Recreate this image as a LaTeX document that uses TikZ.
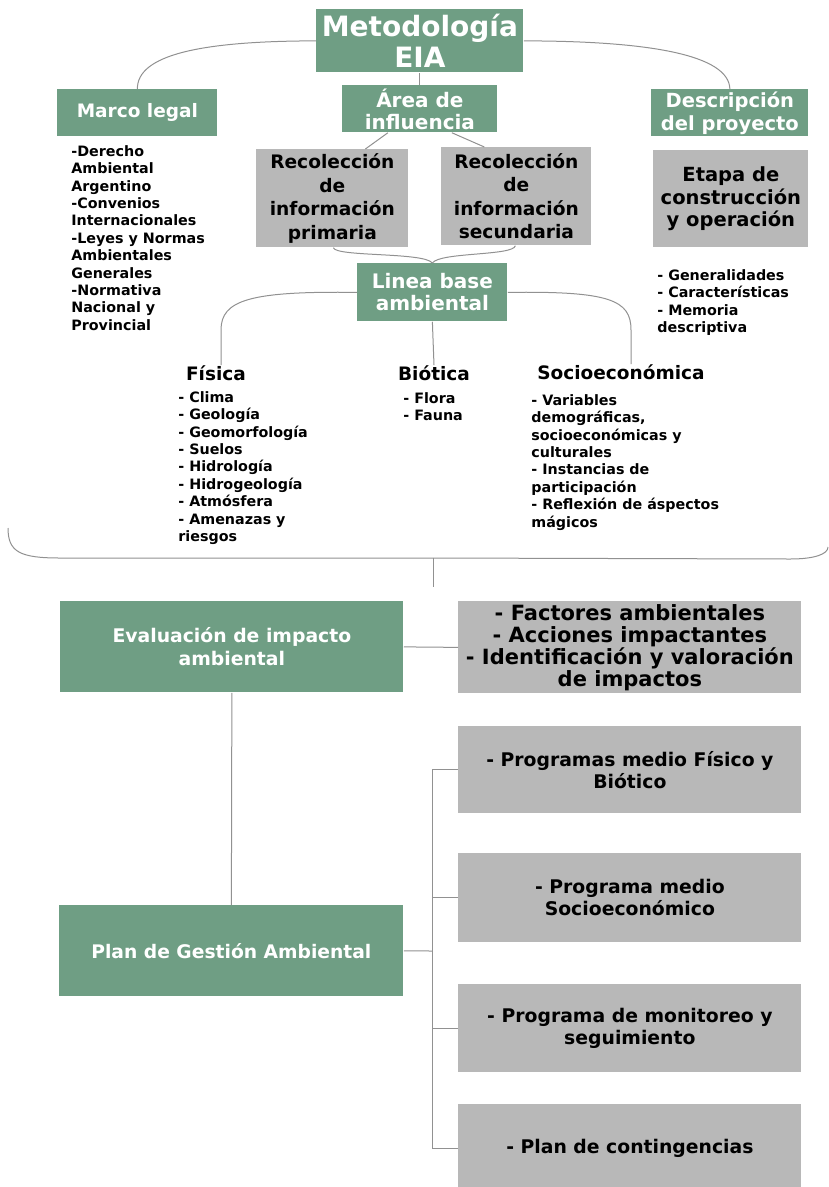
\documentclass[tikz,border=0pt]{standalone}
\usepackage{fontspec}
\setmainfont{DejaVu Sans}
\definecolor{eiagreen}{RGB}{111,158,132}
\definecolor{eiagray}{RGB}{184,184,184}
\definecolor{eialine}{RGB}{145,145,145}
\newcommand{\fs}[2]{\fontsize{#1}{#2}\selectfont\bfseries}
\tikzset{every picture/.style={line width=0.75pt}}
\tikzset{
  greenbox/.style={fill=eiagreen, text=white, inner sep=0pt, align=center, anchor=north west},
  graybox/.style={fill=eiagray, text=black, inner sep=0pt, align=center, anchor=north west},
  listtext/.style={inner sep=0pt, align=left, anchor=north west, font=\fs{14.3}{17.4}},
  titletext/.style={inner sep=0pt, font=\fs{18.5}{22}},
  link/.style={draw=eialine, line width=1pt},
}

\begin{document}
\begin{tikzpicture}[x=1pt,y=1pt,yscale=-1,xscale=1]
\path[use as bounding box] (0,0) rectangle (829,1187);

% Text Node
\node[greenbox, minimum width=207, minimum height=63, font=\fs{28}{31}] (meto) at (316,9) {Metodología\\EIA};
% Text Node
\node[greenbox, minimum width=160, minimum height=47, font=\fs{18.5}{22}] (marco) at (57,89) {Marco legal};
% Text Node
\node[greenbox, minimum width=155, minimum height=47, font=\fs{20}{22}] (area) at (342,85) {Área de\\influencia};
% Text Node
\node[greenbox, minimum width=157, minimum height=47, font=\fs{19.5}{23}] (desc) at (651,89) {Descripción\\del proyecto};
% Text Node
\node[graybox, minimum width=152, minimum height=98, font=\fs{18.6}{23.5}] (prim) at (256,149) {Recolección\\de\\información\\primaria};
% Text Node
\node[graybox, minimum width=150, minimum height=98, font=\fs{18.6}{23.5}] (sec) at (441,147) {Recolección\\de\\información\\secundaria};
% Text Node
\node[graybox, minimum width=155, minimum height=97, font=\fs{19.5}{22.5}] (etapa) at (653,150) {Etapa de\\construcción\\y operación};
% Text Node
\node[greenbox, minimum width=150, minimum height=58, font=\fs{20}{22}] (linea) at (357,263) {Linea base\\ambiental};

% Text Node
\node[listtext] (marcolist) at (71,145) {-Derecho\\Ambiental\\Argentino\\-Convenios\\Internacionales\\-Leyes y Normas\\Ambientales\\Generales\\-Normativa\\Nacional y\\Provincial};
% Text Node
\node[listtext] (desclist) at (657,269) {- Generalidades\\- Características\\- Memoria\\descriptiva};

% Text Node
\node[titletext] (fisica) at (216,373) {Física};
% Text Node
\node[titletext] (biotica) at (434,373) {Biótica};
% Text Node
\node[titletext] (socio) at (621,372) {Socioeconómica};
% Text Node
\node[listtext] (fisicalist) at (178,391) {- Clima\\- Geología\\- Geomorfología\\- Suelos\\- Hidrología\\- Hidrogeología\\- Atmósfera\\- Amenazas y\\riesgos};
% Text Node
\node[listtext] (bioticalist) at (403,392) {- Flora\\- Fauna};
% Text Node
\node[listtext] (sociolist) at (531,394) {- Variables\\demográficas,\\socioeconómicas y\\culturales\\- Instancias de\\participación\\- Reflexión de áspectos\\mágicos};

% Text Node
\node[greenbox, minimum width=343, minimum height=91, font=\fs{18.8}{23}] (eval) at (60,601) {Evaluación de impacto\\ambiental};
% Text Node
\node[graybox, minimum width=343, minimum height=92, font=\fs{21}{22}] (fact) at (458,601) {- Factores ambientales\\- Acciones impactantes\\- Identificación y valoración\\de impactos};
% Text Node
\node[greenbox, minimum width=344, minimum height=91, font=\fs{18.7}{22}] (plan) at (59,905) {Plan de Gestión Ambiental};
% Text Node
\node[graybox, minimum width=343, minimum height=87, font=\fs{18.8}{22}] (p1) at (458,726) {- Programas medio Físico y\\Biótico};
% Text Node
\node[graybox, minimum width=343, minimum height=89, font=\fs{18.8}{22}] (p2) at (458,853) {- Programa medio\\Socioeconómico};
% Text Node
\node[graybox, minimum width=343, minimum height=88, font=\fs{18.8}{22}] (p3) at (458,984) {- Programa de monitoreo y\\seguimiento};
% Text Node
\node[graybox, minimum width=343, minimum height=88, font=\fs{18.8}{22}] (p4) at (458,1104) {- Plan de contingencias};

%Curve Lines
\draw[link] (meto.west) .. controls (200,41) and (137,55) .. (marco.north);
\draw[link] (meto.east) .. controls (650,41) and (729,55) .. (desc.north);
%Straight Lines
\draw[link] (meto.south) -- (area.north);
\draw[link] ([xshift=-32]area.south) -- ([xshift=33]prim.north);
\draw[link] ([xshift=32]area.south) -- ([xshift=-32]sec.north);
%Curve Lines
\draw[link] ([xshift=1]prim.south) .. controls (336,257) and (424,252) .. (linea.north);
\draw[link] ([xshift=-1]sec.south) .. controls (513,256) and (440,252) .. (linea.north);
\draw[link] (linea.west) .. controls (250,291) and (221,300) .. (221,330) -- ([xshift=5]fisica.north);
\draw[link] (linea.east) .. controls (610,291) and (631,300) .. (631,330) -- ([xshift=10]socio.north);
%Straight Lines
\draw[link] (linea.south) -- (biotica.north);

% brace under the three groups
\coordinate (braceL) at (8,528);
\coordinate (braceM) at (433,558);
\coordinate (braceR) at (828,547);
\coordinate (braceT) at (433,587);
\draw[link] (braceL) .. controls (8,552) and (20,558) .. (60,558) -- (braceM);
\draw[link] (braceM) -- (790,559) .. controls (815,559) and (828,554) .. (braceR);
\draw[link] (braceM) -- (braceT);

%Straight Lines
\draw[link] (eval.east) -- (fact.west);
\draw[link] (eval.south) -- (plan.north);
\coordinate (trunk) at (432,951);
\draw[link] (plan.east) -- (trunk);
\draw[link] (p1.west -| trunk) -- (p4.west -| trunk);
\foreach \b in {p1,p2,p3,p4}
  \draw[link] (\b.west) -- (\b.west -| trunk);

\end{tikzpicture}
\end{document}
